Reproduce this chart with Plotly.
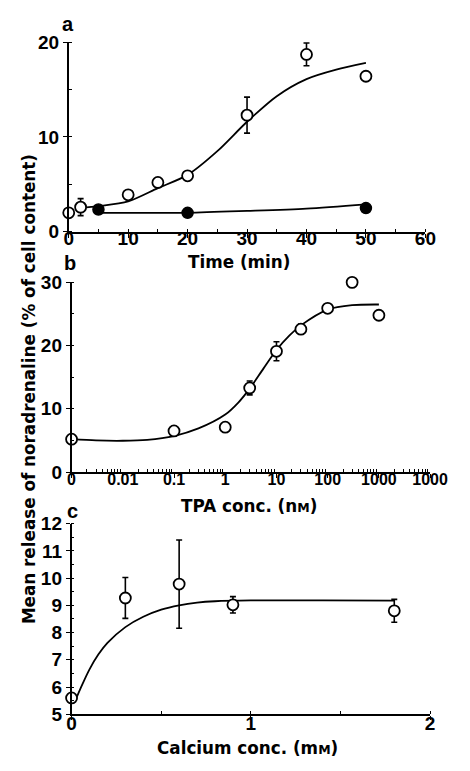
import plotly.graph_objects as go

# ---------------- Panel a: time course ----------------
time_open = [0, 2, 10, 15, 20, 30, 40, 50]
release_open = [2.0, 2.6, 3.9, 5.2, 5.9, 12.3, 18.7, 16.4]
err_open = [None, 0.9, None, None, None, 1.9, 1.2, None]
time_filled = [5, 20, 50]
release_filled = [2.35, 2.0, 2.5]
fit_time_open = [2, 5, 10, 15, 20, 25, 30, 35, 40, 45, 50]
fit_open = [2.5, 2.7, 3.2, 4.6, 6.0, 8.5, 11.6, 14.3, 16.1, 17.1, 17.8]
fit_time_filled = [5, 10, 20, 30, 40, 50]
fit_filled = [2.0, 2.0, 2.0, 2.2, 2.45, 2.9]

# ---------------- Panel b: TPA concentration ----------------
tpa_conc = [0, 0.1, 1, 3, 10, 30, 100, 300, 1000]
release_tpa = [5.2, 6.5, 7.1, 13.3, 19.1, 22.6, 25.9, 30.0, 24.8]
err_tpa = [None, None, None, 1.1, 1.5, 0.8, None, None, None]
fit_tpa_conc = [0, 0.003, 0.01, 0.03, 0.1, 0.3, 1, 1.8, 3, 5.6, 10, 18, 30, 100, 300, 1000]
fit_tpa = [5.2, 5.0, 4.95, 5.1, 5.7, 6.9, 9.1, 11.0, 13.2, 16.4, 19.3, 21.6, 23.2, 25.7, 26.4, 26.5]
tpa_ticks = [0, 0.01, 0.1, 1, 10, 100, 1000, 10000]
tpa_ticktext = ["0", "0.01", "0.1", "1", "10", "100", "1000", "1000"]
ZERO_POS = 1e-3  # position of the "0" concentration on the log axis

# ---------------- Panel c: calcium concentration ----------------
ca_conc = [0, 0.3, 0.6, 0.9, 1.8]
release_ca = [5.6, 9.27, 9.78, 9.02, 8.8]
err_ca = [None, 0.75, 1.62, 0.3, 0.42]
fit_ca_conc = [0.03, 0.06, 0.1, 0.15, 0.2, 0.3, 0.4, 0.5, 0.6, 0.7, 0.8, 1.0, 1.4, 1.8]
fit_ca = [5.65, 6.1, 6.65, 7.2, 7.62, 8.2, 8.58, 8.84, 9.0, 9.1, 9.15, 9.18, 9.18, 9.17]


def logpos(vals):
    return [v if v > 0 else ZERO_POS for v in vals]


W, H = 470, 771
FONT = "Liberation Sans, Arial, sans-serif"
TFONT = "DejaVu Sans, sans-serif"


def px_x(p):
    return p / W


def px_y(p):
    return 1 - p / H


open_marker = dict(symbol="circle", size=11, color="white", line=dict(color="black", width=1.8))
filled_marker = dict(symbol="circle", size=11, color="black", line=dict(color="black", width=1.5))
line_style = dict(color="black", width=1.8, shape="spline", smoothing=0.8)


def err(a):
    return dict(type="data", array=[e if e is not None else float("nan") for e in a],
                visible=True, color="black", thickness=1.6, width=3)


fig = go.Figure()

# panel a
fig.add_trace(go.Scatter(x=fit_time_open, y=fit_open, mode="lines", line=line_style,
                         xaxis="x", yaxis="y", showlegend=False, hoverinfo="skip"))
fig.add_trace(go.Scatter(x=fit_time_filled, y=fit_filled, mode="lines", line=line_style,
                         xaxis="x", yaxis="y", showlegend=False, hoverinfo="skip"))
fig.add_trace(go.Scatter(x=time_filled, y=release_filled, mode="markers", marker=filled_marker,
                         xaxis="x", yaxis="y", showlegend=False, cliponaxis=False))
fig.add_trace(go.Scatter(x=time_open, y=release_open, mode="markers", marker=open_marker,
                         error_y=err(err_open), xaxis="x", yaxis="y", showlegend=False,
                         cliponaxis=False))

# panel b
fig.add_trace(go.Scatter(x=logpos(fit_tpa_conc), y=fit_tpa, mode="lines", line=line_style,
                         xaxis="x2", yaxis="y2", showlegend=False, hoverinfo="skip"))
fig.add_trace(go.Scatter(x=logpos(tpa_conc), y=release_tpa, mode="markers", marker=open_marker,
                         error_y=err(err_tpa), xaxis="x2", yaxis="y2", showlegend=False,
                         cliponaxis=False))

# panel c
fig.add_trace(go.Scatter(x=fit_ca_conc, y=fit_ca, mode="lines", line=line_style,
                         xaxis="x3", yaxis="y3", showlegend=False, hoverinfo="skip"))
fig.add_trace(go.Scatter(x=ca_conc, y=release_ca, mode="markers", marker=open_marker,
                         error_y=err(err_ca), xaxis="x3", yaxis="y3", showlegend=False,
                         cliponaxis=False))

tickfont = dict(family=FONT, size=19, color="black", weight="bold")
common = dict(showline=True, linecolor="black", linewidth=1.6, ticks="outside", ticklen=4,
              tickwidth=1.4, tickcolor="black", showgrid=False, zeroline=False,
              tickfont=tickfont, mirror=False)
minor = dict(ticks="inside", ticklen=3, tickwidth=1.2, tickcolor="black", showgrid=False)

minor_log = [k * 10 ** n for n in range(-3, 4) for k in range(2, 10)]

fig.update_layout(
    width=W, height=H, margin=dict(l=0, r=0, t=0, b=0),
    paper_bgcolor="white", plot_bgcolor="white",
    xaxis=dict(domain=[px_x(67), px_x(442)], range=[0, 60], tickvals=[0, 10, 20, 30, 40, 50, 60],
               anchor="y", minor=dict(dtick=5, **minor), **dict(common, ticklabelstandoff=-15)),
    yaxis=dict(domain=[px_y(228), px_y(33)], range=[0, 20], tickvals=[0, 10, 20],
               anchor="x", minor=dict(dtick=5, **minor), **common),
    xaxis2=dict(domain=[px_x(70), px_x(447)], type="log", range=[-3, 4],
                tickvals=logpos(tpa_ticks), ticktext=tpa_ticktext, anchor="y2",
                minor=dict(tickvals=minor_log, **minor),
                **dict(common, ticklabelstandoff=-12, tickfont=dict(tickfont, size=16))),
    yaxis2=dict(domain=[px_y(475), px_y(280)], range=[0, 30], tickvals=[0, 10, 20, 30],
                anchor="x2", minor=dict(dtick=5, **minor), **common),
    xaxis3=dict(domain=[px_x(70), px_x(447)], range=[0, 2], tickvals=[0, 1, 2],
                anchor="y3", minor=dict(dtick=0.5, **minor), **dict(common, ticklabelstandoff=-13)),
    yaxis3=dict(domain=[px_y(724), px_y(528)], range=[5, 12], tickvals=list(range(5, 13)),
                anchor="x3", minor=dict(dtick=0.5, **minor), **common),
)

title_font = dict(family=TFONT, size=16.8, color="black", weight="bold")
label_font = dict(family=FONT, size=20, color="black", weight="bold")


def ann(text, x, y, font, angle=0):
    fig.add_annotation(text=text, x=px_x(x), y=px_y(y), xref="paper", yref="paper",
                       showarrow=False, font=font, textangle=angle,
                       xanchor="center", yanchor="middle")


ann("Time (min)", 246, 259, title_font)
ann("TPA conc. (n<span style='font-size:12.5px'>M</span>)", 257, 510, title_font)
ann("Calcium conc. (m<span style='font-size:12.5px'>M</span>)", 255, 759, title_font)
ann("Mean release of noradrenaline (% of cell content)", 26, 390, title_font, angle=-90)
ann("a", 66, 14, label_font)
ann("b", 68, 260, label_font)
ann("c", 71, 515, label_font)

fig.write_html("out.html")
